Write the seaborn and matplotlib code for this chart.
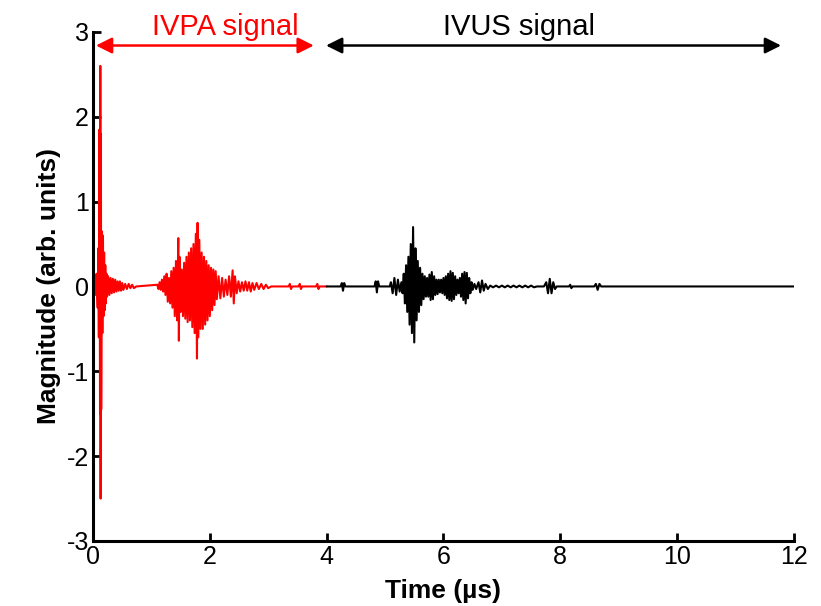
import matplotlib
matplotlib.use("Agg")
import matplotlib.pyplot as plt
import seaborn as sns
import pandas as pd

# IVPA part of the trace (red), time in us, magnitude in arb. units
ivpa_t = [0.00, 0.02, 0.04, 0.06, 0.08, 0.09, 0.10, 0.11, 0.12, 0.125, 0.13, 0.135,
          0.14, 0.15, 0.16, 0.17, 0.18, 0.19, 0.20, 0.21, 0.22, 0.23, 0.24, 0.26,
          0.28, 0.30, 0.32, 0.34, 0.36, 0.38, 0.40, 0.42, 0.44, 0.46, 0.48, 0.50,
          0.52, 0.55, 0.58, 0.61, 0.64, 0.67, 0.70, 0.74,
          1.10, 1.12, 1.14, 1.16, 1.18, 1.20, 1.22, 1.24, 1.26, 1.28, 1.30, 1.32,
          1.34, 1.36, 1.38, 1.40, 1.42, 1.44, 1.46, 1.47, 1.48, 1.50, 1.52, 1.54,
          1.56, 1.58, 1.60, 1.62, 1.64, 1.66, 1.68, 1.70, 1.72, 1.74, 1.76, 1.78,
          1.79, 1.80, 1.82, 1.84, 1.86, 1.88, 1.90, 1.92, 1.94, 1.96, 1.98, 2.00,
          2.02, 2.04, 2.06, 2.08, 2.10,
          2.12, 2.15, 2.18, 2.21, 2.24, 2.27, 2.30, 2.33, 2.36, 2.39, 2.41, 2.43,
          2.46, 2.49, 2.52, 2.55, 2.58, 2.61, 2.64, 2.67, 2.70, 2.73, 2.76, 2.80,
          2.84, 2.88, 2.92, 2.96, 3.00, 3.05, 3.35, 3.37, 3.39, 3.41, 3.52, 3.54,
          3.56, 3.58, 3.82, 3.84, 3.86, 3.88, 4.00]
ivpa_y = [0.00, 0.06, -0.10, 0.15, -0.25, 0.45, -0.60, 1.85, -1.50, 2.60, -2.50, 1.80,
          -1.45, 0.65, -0.55, 0.60, -0.35, 0.40, -0.28, 0.25, -0.20, 0.15, -0.12, 0.12,
          -0.10, 0.10, -0.08, 0.09, -0.07, 0.08, -0.06, 0.06, -0.05, 0.06, -0.05, 0.04,
          -0.04, 0.03, -0.03, 0.03, -0.02, 0.02, -0.02, 0.00,
          0.02, -0.03, 0.05, -0.04, 0.08, -0.06, 0.12, -0.10, 0.15, -0.18, 0.10, -0.20,
          0.18, -0.25, 0.22, -0.35, 0.30, -0.40, 0.57, -0.64, 0.35, -0.30, 0.20, -0.35,
          0.28, -0.38, 0.35, -0.42, 0.40, -0.40, 0.45, -0.48, 0.50, -0.55, 0.62, -0.85,
          0.75, -0.60, 0.55, -0.50, 0.40, -0.50, 0.35, -0.45, 0.30, -0.40, 0.25, -0.35,
          0.22, -0.28, 0.20, -0.22, 0.18,
          -0.15, 0.12, -0.14, 0.10, -0.12, 0.08, -0.10, 0.12, -0.12, 0.19, -0.20, 0.12,
          -0.08, 0.06, -0.06, 0.05, -0.05, 0.06, -0.05, 0.05, -0.06, 0.04, -0.04, 0.04,
          -0.03, 0.03, -0.03, 0.02, -0.02, 0.00, 0.00, 0.03, -0.03, 0.00, 0.00, 0.03,
          -0.03, 0.00, 0.00, 0.03, -0.03, 0.00, 0.00]

# IVUS part of the trace (black)
ivus_t = [4.00, 4.24, 4.26, 4.28, 4.30, 4.32, 4.82, 4.84, 4.86, 4.88, 4.90, 5.08,
          5.10, 5.13, 5.16, 5.19, 5.22, 5.25, 5.28, 5.30, 5.32, 5.34, 5.36, 5.38,
          5.40, 5.42, 5.44, 5.46, 5.48, 5.50, 5.52, 5.54, 5.56, 5.58, 5.60, 5.62,
          5.64, 5.66, 5.68, 5.70, 5.72, 5.74, 5.76, 5.78, 5.80, 5.82, 5.84, 5.86,
          5.88, 5.90, 5.92, 5.94, 5.96, 5.98, 6.00, 6.02, 6.04, 6.06, 6.08, 6.10,
          6.12, 6.14, 6.16, 6.18, 6.20, 6.22, 6.24, 6.26, 6.28, 6.30, 6.32, 6.34,
          6.36, 6.38, 6.40, 6.42, 6.44, 6.46, 6.48, 6.50, 6.53, 6.56, 6.60, 6.63,
          6.66, 6.69, 6.72, 6.76, 6.80, 6.85, 6.90, 6.95, 7.00, 7.05, 7.10, 7.15,
          7.20, 7.25, 7.30, 7.35, 7.40, 7.45, 7.50, 7.55, 7.60, 7.72, 7.76, 7.79,
          7.82, 7.85, 7.88, 7.91, 7.94, 8.15, 8.17, 8.19, 8.21, 8.58, 8.61, 8.64,
          8.67, 8.70, 12.00]
ivus_y = [0.00, 0.00, 0.04, -0.05, 0.04, 0.00, 0.00, 0.06, -0.07, 0.06, 0.00, 0.00,
          0.05, -0.08, 0.10, -0.10, 0.08, -0.06, 0.05, -0.08, 0.15, -0.20, 0.25, -0.30,
          0.35, -0.45, 0.50, -0.55, 0.70, -0.66, 0.45, -0.40, 0.30, -0.30, 0.22, -0.22,
          0.15, -0.15, 0.12, -0.12, 0.10, -0.12, 0.14, -0.16, 0.17, -0.15, 0.12, -0.10,
          0.08, -0.09, 0.08, -0.07, 0.08, -0.08, 0.10, -0.10, 0.12, -0.14, 0.15, -0.16,
          0.18, -0.17, 0.16, -0.15, 0.12, -0.10, 0.08, -0.08, 0.10, -0.12, 0.15, -0.16,
          0.17, -0.20, 0.16, -0.14, 0.10, -0.08, 0.05, -0.04, 0.03, -0.03, 0.05, -0.07,
          0.07, -0.05, 0.03, -0.03, 0.01, -0.01, 0.01, -0.01, 0.01, -0.01, 0.01, -0.01,
          0.01, -0.01, 0.01, -0.01, 0.01, -0.01, 0.01, -0.01, 0.00, 0.00, 0.05, -0.08,
          0.09, -0.08, 0.05, -0.03, 0.00, 0.00, 0.02, -0.02, 0.00, 0.00, 0.03, -0.04,
          0.03, 0.00, 0.00]

x_ticks = [0, 2, 4, 6, 8, 10, 12]
y_ticks = [-3, -2, -1, 0, 1, 2, 3]

sns.set_style("ticks")
plt.rcParams["font.family"] = ["Liberation Sans Narrow", "Liberation Sans", "DejaVu Sans"]
plt.rcParams["axes.unicode_minus"] = False

fig = plt.figure(figsize=(8.21, 6.06), dpi=100)
ax = fig.add_axes([0.1133, 0.1073, 0.8537, 0.8400])

ivpa = pd.DataFrame({"t": ivpa_t, "y": ivpa_y})
ivus = pd.DataFrame({"t": ivus_t, "y": ivus_y})
sns.lineplot(data=ivpa, x="t", y="y", color="#ff0000", linewidth=1.5,
             estimator=None, sort=False, ax=ax)
sns.lineplot(data=ivus, x="t", y="y", color="black", linewidth=1.5,
             estimator=None, sort=False, ax=ax)

ax.set_xlim(0, 12)
ax.set_ylim(-3, 3)
ax.set_xticks(x_ticks)
ax.set_yticks(y_ticks)
sns.despine(ax=ax)
for side in ["left", "bottom"]:
    ax.spines[side].set_linewidth(2.2)
    ax.spines[side].set_color("black")
ax.tick_params(direction="in", length=6, width=2, labelsize=18, colors="black", pad=3)

ax.set_xlabel("Time (µs)", fontsize=19, fontweight="bold", color="black")
ax.xaxis.set_label_coords(0.5, -0.074)
ax.set_ylabel("Magnitude (arb. units)", fontsize=19, fontweight="bold",
              color="black", labelpad=4)

# region arrows and labels
ax.annotate("", xy=(0.05, 2.84), xytext=(3.78, 2.84),
            arrowprops=dict(arrowstyle="<|-|>", color="#ff0000", lw=1.8,
                            mutation_scale=24, shrinkA=0, shrinkB=0))
ax.annotate("", xy=(3.99, 2.84), xytext=(11.78, 2.84),
            arrowprops=dict(arrowstyle="<|-|>", color="black", lw=1.8,
                            mutation_scale=24, shrinkA=0, shrinkB=0))
ax.text(2.27, 3.06, "IVPA signal", color="#ff0000", fontsize=21, ha="center", va="center")
ax.text(7.3, 3.06, "IVUS signal", color="black", fontsize=21, ha="center", va="center")

fig.savefig("out.png", dpi=100)
